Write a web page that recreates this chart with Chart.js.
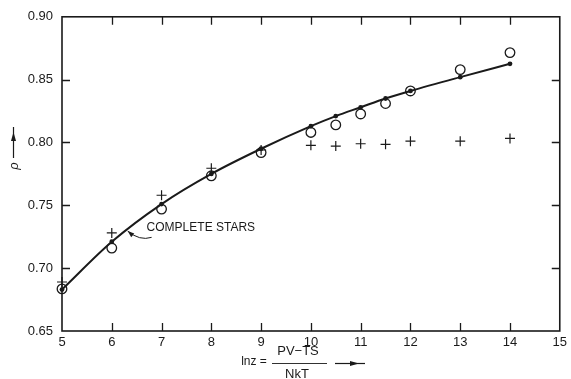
<!DOCTYPE html>
<html>
<head>
<meta charset="utf-8">
<script src="https://cdn.jsdelivr.net/npm/chart.js@4/dist/chart.umd.min.js"></script>
<style>
  html, body { margin: 0; padding: 0; background: #fff; }
  canvas { display: block; }
</style>
</head>
<body>
<canvas id="c" width="571" height="379"></canvas>
<script>
// ln z values where the density ratio was evaluated
const lnZ = [5, 6, 7, 8, 9, 10, 10.5, 11, 11.5, 12, 13, 14];
// complete stars (smooth curve with filled dots)
const rhoComplete = [0.683, 0.721, 0.751, 0.775, 0.795, 0.813, 0.821, 0.828, 0.835, 0.841, 0.852, 0.8626];
// open-circle estimates
const rhoCircles = [0.6835, 0.716, 0.747, 0.7735, 0.792, 0.808, 0.814, 0.8227, 0.831, 0.841, 0.858, 0.8715];
// cross estimates
const rhoCrosses = [0.689, 0.728, 0.758, 0.7795, 0.794, 0.7977, 0.7971, 0.799, 0.7985, 0.801, 0.801, 0.8032];

// axis ticks
const xTicks = [5, 6, 7, 8, 9, 10, 11, 12, 13, 14, 15];
const yTicks = [0.65, 0.70, 0.75, 0.80, 0.85, 0.90];

const INK = '#1a1a1a';
const FONT = '"Liberation Sans", Arial, Helvetica, sans-serif';

const pts = (ys) => lnZ.map((x, i) => ({ x, y: ys[i] }));

// frame, inward tick marks and hand-set annotations
const framePlugin = {
  id: 'frame',
  afterDatasetsDraw(chart) {
    const { ctx, chartArea: a, scales: { x, y } } = chart;
    ctx.save();
    ctx.strokeStyle = INK;
    ctx.fillStyle = INK;

    // box around the plot
    ctx.lineWidth = 1.6;
    ctx.strokeRect(a.left, a.top, a.right - a.left, a.bottom - a.top);

    // inward ticks
    ctx.lineWidth = 1.3;
    ctx.beginPath();
    xTicks.slice(1, -1).forEach(v => {
      const px = Math.round(x.getPixelForValue(v)) + 0.5;
      ctx.moveTo(px, a.bottom); ctx.lineTo(px, a.bottom - 8);
      ctx.moveTo(px, a.top); ctx.lineTo(px, a.top + 8);
    });
    yTicks.slice(1, -1).forEach(v => {
      const py = Math.round(y.getPixelForValue(v)) + 0.5;
      ctx.moveTo(a.left, py); ctx.lineTo(a.left + 8, py);
      ctx.moveTo(a.right, py); ctx.lineTo(a.right - 8, py);
    });
    ctx.stroke();

    // "COMPLETE STARS" label with curved pointer to the curve
    ctx.font = '12px ' + FONT;
    ctx.textBaseline = 'middle';
    ctx.textAlign = 'left';
    const tx = x.getPixelForValue(6.7), ty = y.getPixelForValue(0.732);
    ctx.fillText('COMPLETE STARS', tx, ty);

    const sx = x.getPixelForValue(6.8), sy = y.getPixelForValue(0.7245);
    const cx = x.getPixelForValue(6.56), cy = y.getPixelForValue(0.7215);
    const ex = x.getPixelForValue(6.32), ey = y.getPixelForValue(0.7295);
    ctx.lineWidth = 1;
    ctx.beginPath();
    ctx.moveTo(sx, sy);
    ctx.quadraticCurveTo(cx, cy, ex, ey);
    ctx.stroke();
    const ang = Math.atan2(ey - cy, ex - cx);
    ctx.beginPath();
    ctx.moveTo(ex, ey);
    ctx.lineTo(ex - 7 * Math.cos(ang - 0.35), ey - 7 * Math.sin(ang - 0.35));
    ctx.lineTo(ex - 7 * Math.cos(ang + 0.35), ey - 7 * Math.sin(ang + 0.35));
    ctx.closePath();
    ctx.fill();

    // x-axis title: ln z = (PV - TS) / NkT  ->
    const base = a.bottom;
    ctx.textAlign = 'center';
    ctx.font = '12px ' + FONT;
    ctx.fillText('lnz =', 254, base + 31);
    ctx.font = '13px ' + FONT;
    ctx.fillText('PV\u2212TS', 298, base + 20);
    ctx.fillText('NkT', 297, base + 43);
    ctx.lineWidth = 0.9;
    ctx.beginPath();
    ctx.moveTo(272, base + 32.5); ctx.lineTo(327, base + 32.5);
    ctx.stroke();
    ctx.lineWidth = 1.2;
    ctx.beginPath();
    ctx.moveTo(335, base + 32.5); ctx.lineTo(365, base + 32.5);
    ctx.stroke();
    ctx.beginPath();
    ctx.moveTo(359, base + 32.5); ctx.lineTo(350, base + 30); ctx.lineTo(350, base + 35);
    ctx.closePath();
    ctx.fill();

    // y-axis title: rho with upward arrow
    ctx.save();
    ctx.translate(14, 166);
    ctx.rotate(-Math.PI / 2);
    ctx.font = 'italic 13px ' + FONT;
    ctx.textAlign = 'center';
    ctx.fillText('\u03c1', 0, 0);
    ctx.restore();
    ctx.lineWidth = 1.2;
    ctx.beginPath();
    ctx.moveTo(13.5, 158); ctx.lineTo(13.5, 127);
    ctx.stroke();
    ctx.beginPath();
    ctx.moveTo(13.5, 132); ctx.lineTo(11, 141); ctx.lineTo(16, 141);
    ctx.closePath();
    ctx.fill();

    ctx.restore();
  }
};

new Chart(document.getElementById('c'), {
  type: 'scatter',
  data: {
    datasets: [
      {
        label: 'Complete stars',
        data: pts(rhoComplete),
        showLine: true,
        clip: false,
        borderColor: INK,
        borderWidth: 2,
        tension: 0.4,
        cubicInterpolationMode: 'monotone',
        pointRadius: 2.4,
        pointBackgroundColor: INK,
        pointBorderColor: INK,
        pointBorderWidth: 0
      },
      {
        label: 'Circles',
        data: pts(rhoCircles),
        showLine: false,
        clip: false,
        pointStyle: 'circle',
        pointRadius: 4.8,
        pointBackgroundColor: 'rgba(255,255,255,0)',
        pointBorderColor: INK,
        pointBorderWidth: 1.3
      },
      {
        label: 'Crosses',
        data: pts(rhoCrosses),
        showLine: false,
        clip: false,
        pointStyle: 'cross',
        pointRadius: 5,
        pointBorderColor: INK,
        pointBorderWidth: 1.2
      }
    ]
  },
  options: {
    responsive: false,
    devicePixelRatio: 1,
    animation: false,
    events: [],
    layout: { padding: { left: 0, right: 8, top: 15, bottom: 0 } },
    plugins: { legend: { display: false }, tooltip: { enabled: false } },
    scales: {
      x: {
        type: 'linear',
        min: 5, max: 15,
        afterBuildTicks: s => { s.ticks = xTicks.map(v => ({ value: v })); },
        afterFit: s => { s.height = 48; },
        grid: { display: false, drawTicks: false },
        border: { display: false },
        ticks: {
          padding: 4,
          color: INK,
          font: { family: FONT, size: 13 },
          callback: v => String(v)
        }
      },
      y: {
        type: 'linear',
        min: 0.65, max: 0.90,
        afterBuildTicks: s => { s.ticks = yTicks.map(v => ({ value: v })); },
        afterFit: s => { s.width = 62; },
        grid: { display: false, drawTicks: false },
        border: { display: false },
        ticks: {
          padding: 9,
          color: INK,
          font: { family: FONT, size: 13 },
          callback: v => Number(v).toFixed(2)
        }
      }
    }
  },
  plugins: [framePlugin]
});
</script>
</body>
</html>
